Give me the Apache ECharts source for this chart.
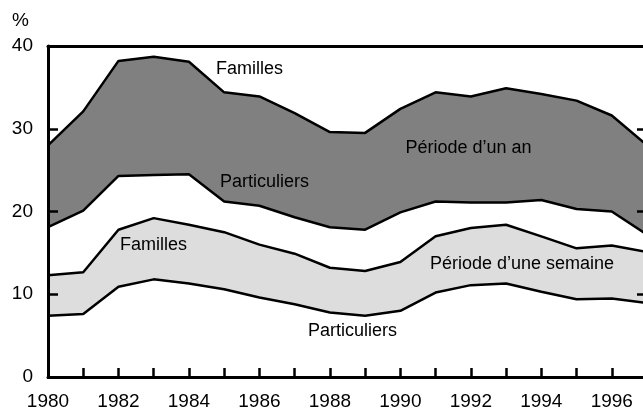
<!DOCTYPE html>
<html>
<head>
<meta charset="utf-8">
<script src="https://cdn.jsdelivr.net/npm/echarts@6/dist/echarts.min.js"></script>
<style>
html,body{margin:0;padding:0;background:#fff;}
#c{width:643px;height:420px;}
</style>
</head>
<body>
<div id="c"></div>
<script>
const years = [1980,1981,1982,1983,1984,1985,1986,1987,1988,1989,1990,1991,1992,1993,1994,1995,1996,1997];
const annualFamilles = [28.0,32.1,38.2,38.7,38.1,34.4,33.9,31.9,29.6,29.5,32.4,34.4,33.9,34.9,34.2,33.4,31.6,28.0];
const annualParticuliers = [18.1,20.1,24.3,24.4,24.5,21.2,20.7,19.3,18.1,17.8,19.9,21.2,21.1,21.1,21.4,20.3,20.0,17.2];
const weeklyFamilles = [12.3,12.65,17.8,19.2,18.4,17.5,16.0,14.9,13.2,12.8,13.9,17.0,18.0,18.4,17.0,15.55,15.9,15.1];
const weeklyParticuliers = [7.4,7.6,10.9,11.8,11.3,10.6,9.6,8.8,7.8,7.4,8.0,10.2,11.1,11.3,10.3,9.4,9.5,8.95];
const yTicks = [0,10,20,30,40];

const FONT = '"Liberation Sans", Arial, sans-serif';
const pairs = a => years.map((y,i)=>[y,a[i]]);

function mk(name, data, fill){
  return {
    name, type:'line', data: pairs(data), symbol:'none', smooth:false,
    lineStyle:{color:'#000', width:2.5},
    areaStyle:{color:fill, opacity:1, origin:'start'},
    z:2, silent:true
  };
}

const chart = echarts.init(document.getElementById('c'), null, {renderer:'canvas'});
chart.setOption({
  animation:false,
  backgroundColor:'#fff',
  grid:{left:48, top:46, width:599, height:331, containLabel:false, outerBoundsMode:'none'},
  xAxis:[{
    type:'value', min:years[0], max:years[years.length-1], interval:1, position:'bottom', z:10,
    axisLine:{show:true, onZero:false, lineStyle:{color:'#000', width:3}},
    axisTick:{show:true, inside:true, length:9, lineStyle:{color:'#000', width:2.5}},
    axisLabel:{color:'#000', fontFamily:FONT, fontSize:19, margin:15,
      formatter: v => (v % 2 === 0 && v < 1997) ? String(v) : ''},
    splitLine:{show:false}
  },{
    type:'value', min:years[0], max:years[years.length-1], position:'top', z:10,
    axisLine:{show:true, onZero:false, lineStyle:{color:'#000', width:3}},
    axisTick:{show:false}, axisLabel:{show:false}, splitLine:{show:false}
  }],
  yAxis:[{
    type:'value', min:0, max:40, interval:10, position:'left', z:10,
    axisLine:{show:true, onZero:false, lineStyle:{color:'#000', width:3}},
    axisTick:{show:true, inside:true, length:10, lineStyle:{color:'#000', width:2.5}},
    axisLabel:{color:'#000', fontFamily:FONT, fontSize:19, margin:15,
      formatter: v => yTicks.includes(v) ? String(v) : ''},
    splitLine:{show:false}
  },{
    type:'value', min:0, max:40, interval:10, position:'right', z:10,
    axisLine:{show:true, onZero:false, lineStyle:{color:'#000', width:3}},
    axisTick:{show:true, inside:true, length:10, lineStyle:{color:'#000', width:2.5}},
    axisLabel:{show:false}, splitLine:{show:false}
  }],
  series:[
    mk('Familles (an)', annualFamilles, '#808080'),
    mk('Particuliers (an)', annualParticuliers, '#ffffff'),
    mk('Familles (semaine)', weeklyFamilles, '#dddddd'),
    mk('Particuliers (semaine)', weeklyParticuliers, '#ffffff')
  ],
  graphic:[
    {type:'text', left:12, top:11, z:20, style:{text:'%', font:'19px '+FONT, fill:'#000'}},
    {type:'text', x:216, y:69, z:20, style:{text:'Familles', font:'18px '+FONT, fill:'#000', verticalAlign:'middle'}},
    {type:'text', x:220, y:182.5, z:20, style:{text:'Particuliers', font:'18px '+FONT, fill:'#000', verticalAlign:'middle'}},
    {type:'text', x:405.5, y:148, z:20, style:{text:'Période d’un an', font:'18px '+FONT, fill:'#000', verticalAlign:'middle'}},
    {type:'text', x:120, y:245.5, z:20, style:{text:'Familles', font:'18px '+FONT, fill:'#000', verticalAlign:'middle'}},
    {type:'text', x:430, y:264.5, z:20, style:{text:'Période d’une semaine', font:'18px '+FONT, fill:'#000', verticalAlign:'middle'}},
    {type:'text', x:308, y:331.5, z:20, style:{text:'Particuliers', font:'18px '+FONT, fill:'#000', verticalAlign:'middle'}}
  ]
});
</script>
</body>
</html>
